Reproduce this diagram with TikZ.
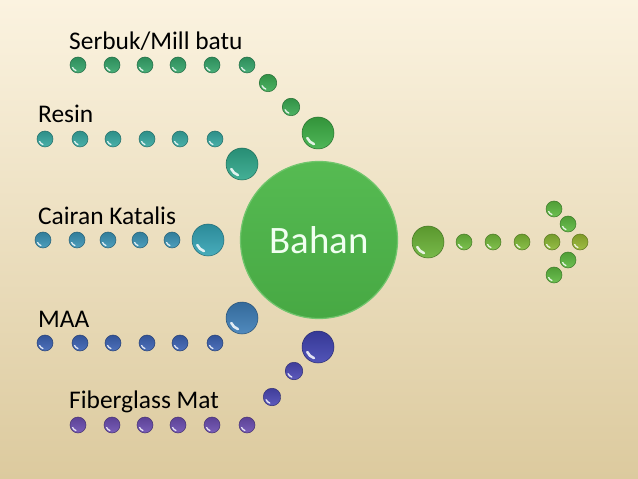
\documentclass[tikz,border=0pt]{standalone}
\usepackage{fontspec}
\setmainfont{Carlito}
\begin{document}
\begin{tikzpicture}[x=1bp,y=-1bp]
\definecolor{bgtop}{RGB}{251,243,224}
\definecolor{bgmid}{RGB}{243,232,207}
\definecolor{bgbot}{RGB}{220,202,158}
\definecolor{ca}{HTML}{35A56A}
\definecolor{cad}{HTML}{3AAA52}
\definecolor{cb}{HTML}{36A8A0}
\definecolor{cc}{HTML}{3A93B5}
\definecolor{cd}{HTML}{3B62B3}
\definecolor{ce}{HTML}{6B4DB0}
\definecolor{ced}{HTML}{4B48B5}
\definecolor{ba}{HTML}{3CAE45}
\definecolor{bb}{HTML}{2FA78A}
\definecolor{bc}{HTML}{34A3B4}
\definecolor{bd}{HTML}{3D7DB6}
\definecolor{be}{HTML}{3F42B0}
\definecolor{ra}{HTML}{6AB236}
\definecolor{r1}{HTML}{6DBB3C}
\definecolor{r2}{HTML}{74BA3A}
\definecolor{r3}{HTML}{7EB936}
\definecolor{r4}{HTML}{8AB733}
\definecolor{r5}{HTML}{96B630}
\definecolor{rg}{HTML}{5DB93F}
\definecolor{maing}{HTML}{4DB749}
\newcommand\hilite[1]{\draw[white,opacity=.85,line width=#1*0.16bp,line cap=round]
  (path picture bounding box.center) ++(205:#1*0.74bp) arc (205:250:#1*0.74bp);}
\tikzset{
  ball/.style={circle,inner sep=0pt,draw=#1!65!black,line width=0.5bp,
    top color=#1!85!black,bottom color=#1!90!white},
  sdot/.style={ball=#1,minimum size=16bp,path picture={\hilite{8}}},
  mdot/.style={ball=#1,minimum size=17.5bp,path picture={\hilite{8.75}}},
  bdot/.style={ball=#1,minimum size=32bp,path picture={\hilite{16}}},
  lab/.style={anchor=base west,inner sep=0pt,font=\fontsize{25.5}{25.5}\selectfont,text=black}
}
\shade[top color=bgtop,middle color=bgmid,bottom color=bgbot] (0,0) rectangle (638,479);
\useasboundingbox (0,0) rectangle (638,479);

% main
\node[circle,inner sep=0pt,minimum size=157bp,top color=maing!95!white,bottom color=maing!92!black,
  draw=maing!80!white,line width=1.2bp,text=white!94!green,font=\fontsize{39}{39}\selectfont] (main) at (319,240) {Bahan};

% row 1
\node[lab] (l1) at (69,50) {Serbuk/Mill batu};
\foreach \x [count=\i] in {78,112,145,178,212,247} \node[sdot=ca] (a\i) at (\x,65) {};
\node[mdot=cad] (a7) at (268,83) {};
\node[mdot=cad] (a8) at (291,107) {};
\node[bdot=ba] (A) at (318,133) {};

% row 2
\node[lab] (l2) at (38,123) {Resin};
\foreach \x [count=\i] in {45,80,113,147,180,215} \node[sdot=cb] (b\i) at (\x,139) {};
\node[bdot=bb] (B) at (242,164) {};

% row 3
\node[lab] (l3) at (38,225) {Cairan Katalis};
\foreach \x [count=\i] in {43,77,108,140,172} \node[sdot=cc] (c\i) at (\x,240) {};
\node[bdot=bc] (C) at (208,240) {};

% row 4
\node[lab] (l4) at (38,327) {MAA};
\foreach \x [count=\i] in {45,80,113,147,180,215} \node[sdot=cd] (d\i) at (\x,343) {};
\node[bdot=bd] (D) at (242,318) {};

% row 5
\node[lab] (l5) at (69,408) {Fiberglass Mat};
\foreach \x [count=\i] in {78,112,145,178,212,247} \node[sdot=ce] (e\i) at (\x,425) {};
\node[mdot=ced] (e7) at (272,397) {};
\node[mdot=ced] (e8) at (294,371) {};
\node[bdot=be] (E) at (318,347) {};

% arrow
\node[bdot=ra] (R) at (428,242) {};
\node[sdot=r1] (r1) at (464,242) {};
\node[sdot=r2] (r2) at (493,242) {};
\node[sdot=r3] (r3) at (522,242) {};
\node[sdot=r4] (r4) at (552,242) {};
\node[sdot=r5] (r5) at (580,242) {};
\node[sdot=rg] (u1) at (554,209) {};
\node[sdot=rg] (u2) at (568,224) {};
\node[sdot=rg] (w1) at (568,260) {};
\node[sdot=rg] (w2) at (554,275) {};
\end{tikzpicture}
\end{document}
